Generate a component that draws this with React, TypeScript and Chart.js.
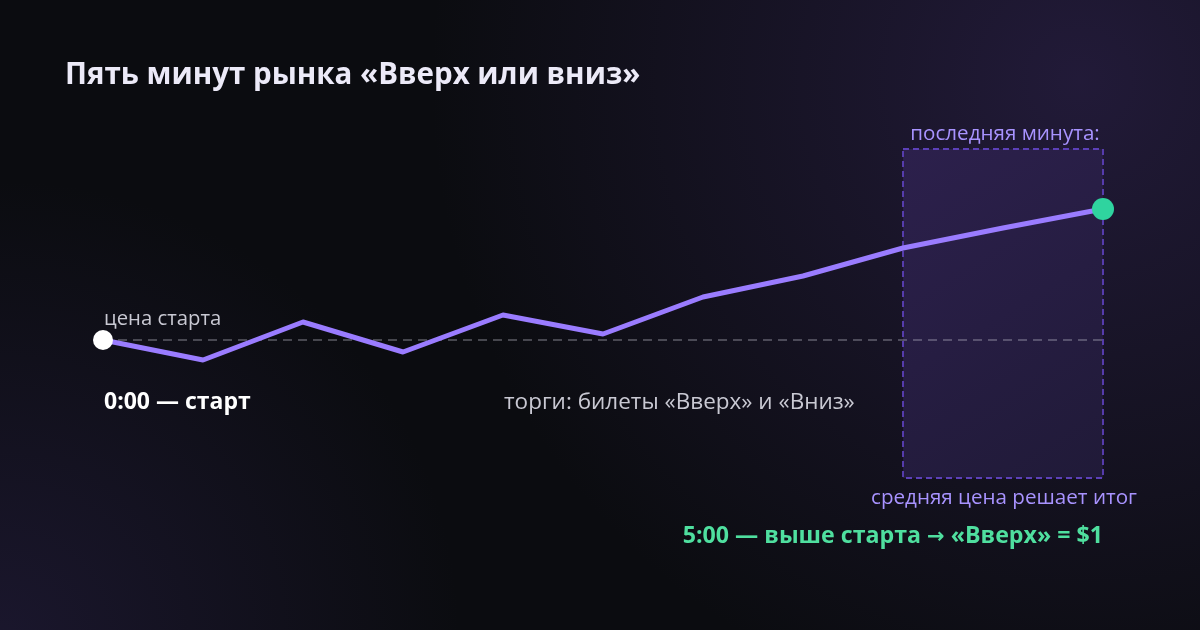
import React, { useEffect, useRef } from "react";
import { Chart, registerables } from "chart.js";

Chart.register(...registerables);

const minutes = [0, 0.5, 1, 1.5, 2, 2.5, 3, 3.5, 4, 4.5, 5];
const prices = [138, 118, 156, 126, 163, 144, 181, 202, 230, 250, 269];
const startPrice = 138;
const lastMinuteStart = 4;
const lastMinuteEnd = 5;

const titleText = "Пять минут рынка «Вверх или вниз»";
const startLabel = "цена старта";
const startTimeLabel = "0:00 — старт";
const tradingLabel = "торги: билеты «Вверх» и «Вниз»";
const lastMinuteLabel = "последняя минута:";
const averageLabel = "средняя цена решает итог";
const resultParts = ["5:00 — выше старта ", "→", " «Вверх» = $1"];

const FONT = "'Open Sans', 'Noto Sans', sans-serif";
const ARROW_FONT = "'DejaVu Sans', sans-serif";

export default function App() {
  const ref = useRef<HTMLCanvasElement | null>(null);

  useEffect(() => {
    document.body.style.margin = "0";
    const canvas = ref.current;
    if (!canvas) return;

    const bgPlugin = {
      id: "bg",
      beforeDraw(chart: any) {
        const { ctx, width, height } = chart;
        ctx.save();
        ctx.fillStyle = "#0b0c10";
        ctx.fillRect(0, 0, width, height);
        let g = ctx.createRadialGradient(1080, 80, 0, 1080, 80, 650);
        g.addColorStop(0, "rgba(56,40,96,0.5)");
        g.addColorStop(1, "rgba(56,40,96,0)");
        ctx.fillStyle = g;
        ctx.fillRect(0, 0, width, height);
        g = ctx.createRadialGradient(0, 640, 0, 0, 640, 460);
        g.addColorStop(0, "rgba(45,35,80,0.45)");
        g.addColorStop(1, "rgba(45,35,80,0)");
        ctx.fillStyle = g;
        ctx.fillRect(0, 0, width, height);
        ctx.restore();
      },
      beforeDatasetsDraw(chart: any) {
        const { ctx, chartArea, scales } = chart;
        const x0 = scales.x.getPixelForValue(lastMinuteStart);
        const x1 = scales.x.getPixelForValue(lastMinuteEnd);
        const y0 = chartArea.top;
        const y1 = chartArea.bottom;
        ctx.save();
        const g = ctx.createLinearGradient(x0, y0, x1, y1);
        g.addColorStop(0, "rgba(44,32,76,1)");
        g.addColorStop(1, "rgba(32,26,56,1)");
        ctx.fillStyle = g;
        ctx.fillRect(x0, y0, x1 - x0, y1 - y0);
        ctx.setLineDash([6, 4]);
        ctx.lineWidth = 1.8;
        ctx.strokeStyle = "#5c40b8";
        ctx.strokeRect(x0, y0, x1 - x0, y1 - y0);
        ctx.restore();
      },
      afterDraw(chart: any) {
        const { ctx, scales } = chart;
        const xs = scales.x.getPixelForValue(0);
        const xe = scales.x.getPixelForValue(5);
        const xm0 = scales.x.getPixelForValue(lastMinuteStart);
        const xm = (xm0 + xe) / 2;
        const x2 = scales.x.getPixelForValue(2);
        ctx.save();
        ctx.textBaseline = "alphabetic";
        ctx.fillStyle = "#eceaf8";
        ctx.font = `bold 29.5px ${FONT}`;
        ctx.textAlign = "left";
        ctx.fillText(titleText, 65, 84);

        ctx.fillStyle = "#c9c9d3";
        ctx.font = `20.3px ${FONT}`;
        ctx.fillText(startLabel, xs + 1, 325);

        ctx.fillStyle = "#ffffff";
        ctx.font = `bold 23px ${FONT}`;
        ctx.fillText(startTimeLabel, xs + 1, 409);

        ctx.fillStyle = "#c9c9d3";
        ctx.font = `22.5px ${FONT}`;
        ctx.fillText(tradingLabel, x2 + 1, 409);

        ctx.fillStyle = "#a893ff";
        ctx.font = `20.6px ${FONT}`;
        ctx.textAlign = "center";
        ctx.fillText(lastMinuteLabel, xm + 2, 140);
        ctx.fillText(averageLabel, xm + 1, 504);

        ctx.fillStyle = "#4fdf9f";
        ctx.textAlign = "left";
        const fonts = [`bold 23.2px ${FONT}`, `bold 21px ${ARROW_FONT}`, `bold 23.2px ${FONT}`];
        const widths = resultParts.map((p, i) => {
          ctx.font = fonts[i];
          return ctx.measureText(p).width;
        });
        let x = xe - widths.reduce((a, b) => a + b, 0);
        resultParts.forEach((p, i) => {
          ctx.font = fonts[i];
          ctx.fillText(p, x, 543);
          x += widths[i];
        });
        ctx.restore();
      },
    };

    const n = prices.length;
    const chart = new Chart(canvas, {
      type: "line",
      data: {
        datasets: [
          {
            label: "price",
            data: minutes.map((m, i) => ({ x: m, y: prices[i] })),
            borderColor: "#9a7cff",
            borderWidth: 5,
            tension: 0,
            borderJoinStyle: "round",
            clip: false,
            pointRadius: prices.map((_, i) => (i === 0 ? 10 : i === n - 1 ? 11 : 0)),
            pointBackgroundColor: prices.map((_, i) => (i === 0 ? "#ffffff" : "#2fd49f")),
            pointBorderWidth: 0,
            pointHoverRadius: 0,
            order: 1,
          },
          {
            label: "start",
            data: [
              { x: minutes[0], y: startPrice },
              { x: minutes[minutes.length - 1], y: startPrice },
            ],
            borderColor: "rgba(200,200,215,0.42)",
            borderWidth: 1.6,
            borderDash: [9, 6],
            pointRadius: 0,
            clip: false,
            order: 2,
          },
        ],
      },
      options: {
        responsive: false,
        animation: false,
        events: [],
        layout: { padding: { left: 103, right: 97, top: 149, bottom: 152 } },
        plugins: { legend: { display: false }, tooltip: { enabled: false } },
        scales: {
          x: { type: "linear", min: 0, max: 5, display: false },
          y: { min: 0, max: 329, display: false },
        },
      },
      plugins: [bgPlugin],
    } as any);
    return () => chart.destroy();
  }, []);

  return (
    <div style={{ position: "fixed", left: 0, top: 0, width: 1200, height: 630 }}>
      <canvas ref={ref} width={1200} height={630} style={{ display: "block" }} />
    </div>
  );
}
